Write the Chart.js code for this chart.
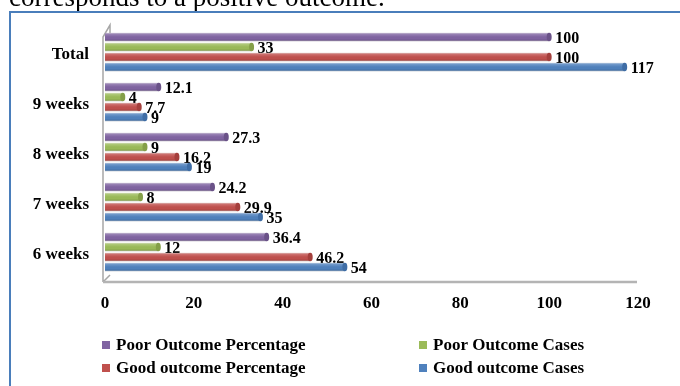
<!DOCTYPE html>
<html>
<head>
<meta charset="utf-8">
<script src="https://cdn.jsdelivr.net/npm/chart.js@4/dist/chart.umd.min.js"></script>
<style>
  html, body { margin: 0; padding: 0; background: #fff; }
  #wrap { position: relative; width: 680px; height: 386px; }
</style>
</head>
<body>
<div id="wrap"><canvas id="c"></canvas></div>
<script>
// Categories, top to bottom
const categories = ['Total', '9 weeks', '8 weeks', '7 weeks', '6 weeks'];

// Series values per category
const poorOutcomePercentage = [100, 12.1, 27.3, 24.2, 36.4];
const poorOutcomeCases      = [33, 4, 9, 8, 12];
const goodOutcomePercentage = [100, 7.7, 16.2, 29.9, 46.2];
const goodOutcomeCases      = [117, 9, 19, 35, 54];

// Value axis ticks
const xTicks = [0, 20, 40, 60, 80, 100, 120];

const SERIF = '"Liberation Serif", "Times New Roman", serif';

const fills = ['#8064A2', '#9BBB59', '#C0504D', '#4F81BD'];
const edges = ['#6A5288', '#849F48', '#A43F3C', '#3F6DA5'];

// White page, heading line above the figure and the blue frame around it
const pagePlugin = {
  id: 'page',
  beforeDraw(chart) {
    const { ctx, width, height } = chart;
    ctx.save();
    ctx.fillStyle = '#fff';
    ctx.fillRect(0, 0, width, height);
    ctx.font = '27px ' + SERIF;
    ctx.fillStyle = '#000';
    ctx.textBaseline = 'alphabetic';
    ctx.textAlign = 'left';
    ctx.fillText('corresponds to a positive outcome.', 9, 6);
    ctx.strokeStyle = '#4A7EBB';
    ctx.lineWidth = 2;
    ctx.strokeRect(10, 12, width + 20, height + 20);
    ctx.restore();
  }
};

// Pseudo-3D wall and floor lines
const wallPlugin = {
  id: 'wall',
  beforeDatasetsDraw(chart) {
    const { ctx, chartArea } = chart;
    const fx = chartArea.left - 2, bx = fx + 7;
    const topFront = chartArea.top + 10, topBack = chartArea.top - 2;
    const floor = chartArea.bottom + 5;
    ctx.save();
    ctx.strokeStyle = '#A6A6A6';
    ctx.lineWidth = 1.5;
    ctx.beginPath();
    ctx.moveTo(fx, floor);
    ctx.lineTo(fx, topFront);
    ctx.lineTo(bx, topBack);
    ctx.lineTo(bx, topBack + 8);
    ctx.moveTo(fx, floor);
    ctx.lineTo(bx, floor - 7);
    ctx.stroke();
    ctx.strokeStyle = '#B4B4B4';
    ctx.lineWidth = 2.5;
    ctx.beginPath();
    ctx.moveTo(fx, floor);
    ctx.lineTo(chartArea.right - 1, floor);
    ctx.stroke();
    ctx.restore();
  }
};

// Cylinder-like shading, rounded bar ends and value labels
const barDecor = {
  id: 'barDecor',
  afterDatasetsDraw(chart) {
    const ctx = chart.ctx;
    ctx.save();
    chart.data.datasets.forEach((ds, di) => {
      const meta = chart.getDatasetMeta(di);
      meta.data.forEach((el, i) => {
        const h = el.height, top = el.y - h / 2;
        const g = ctx.createLinearGradient(0, top, 0, top + h);
        g.addColorStop(0, 'rgba(255,255,255,0.30)');
        g.addColorStop(0.35, 'rgba(255,255,255,0.08)');
        g.addColorStop(0.65, 'rgba(0,0,0,0)');
        g.addColorStop(1, 'rgba(0,0,0,0.16)');
        ctx.fillStyle = g;
        ctx.fillRect(el.base, top, el.x - el.base, h);
        // end cap
        ctx.beginPath();
        ctx.ellipse(el.x, el.y, 2.5, h / 2, 0, 0, Math.PI * 2);
        ctx.fillStyle = edges[di];
        ctx.fill();
        // value label
        const v = ds.data[i];
        ctx.font = 'bold 16px ' + SERIF;
        ctx.fillStyle = '#000';
        ctx.textAlign = 'left';
        ctx.textBaseline = 'middle';
        ctx.fillText(String(v), el.x + 6, el.y + 2);
      });
    });
    ctx.restore();
  }
};

// Two-column legend under the axis
const gridLegend = {
  id: 'gridLegend',
  afterDraw(chart) {
    const ctx = chart.ctx;
    const cols = [102, 419], rows = [345, 368];
    ctx.save();
    ctx.font = 'bold 17px ' + SERIF;
    ctx.textAlign = 'left';
    ctx.textBaseline = 'middle';
    chart.data.datasets.forEach((ds, di) => {
      const x = cols[di % 2], y = rows[Math.floor(di / 2)];
      ctx.fillStyle = ds.backgroundColor;
      ctx.fillRect(x, y - 4, 8, 8);
      ctx.fillStyle = '#000';
      ctx.fillText(ds.label, x + 14, y + 1);
    });
    ctx.restore();
  }
};

const tickFont = { family: SERIF, size: 17, weight: 'bold' };

new Chart(document.getElementById('c'), {
  type: 'bar',
  data: {
    labels: categories,
    datasets: [
      { label: 'Poor Outcome Percentage', data: poorOutcomePercentage },
      { label: 'Poor Outcome Cases', data: poorOutcomeCases },
      { label: 'Good outcome Percentage', data: goodOutcomePercentage },
      { label: 'Good outcome Cases', data: goodOutcomeCases }
    ].map((d, i) => Object.assign(d, {
      backgroundColor: fills[i],
      borderColor: edges[i],
      borderWidth: 0.8,
      categoryPercentage: 0.8,
      barPercentage: 0.86
    }))
  },
  options: {
    indexAxis: 'y',
    responsive: true,
    maintainAspectRatio: false,
    animation: false,
    layout: { padding: { top: 27, right: 42, left: 0, bottom: 0 } },
    plugins: {
      legend: { display: false },
      tooltip: { enabled: false }
    },
    scales: {
      x: {
        min: 0,
        max: 120,
        afterBuildTicks(scale) { scale.ticks = xTicks.map(v => ({ value: v })); },
        afterFit(scale) { scale.height = 109; },
        ticks: { padding: 16, font: tickFont, color: '#000' },
        grid: { display: false, drawTicks: false },
        border: { display: false }
      },
      y: {
        afterFit(scale) { scale.width = 105; },
        ticks: { padding: 16, font: tickFont, color: '#000', labelOffset: 3 },
        grid: { display: false, drawTicks: false },
        border: { display: false }
      }
    }
  },
  plugins: [pagePlugin, wallPlugin, barDecor, gridLegend]
});
</script>
</body>
</html>
